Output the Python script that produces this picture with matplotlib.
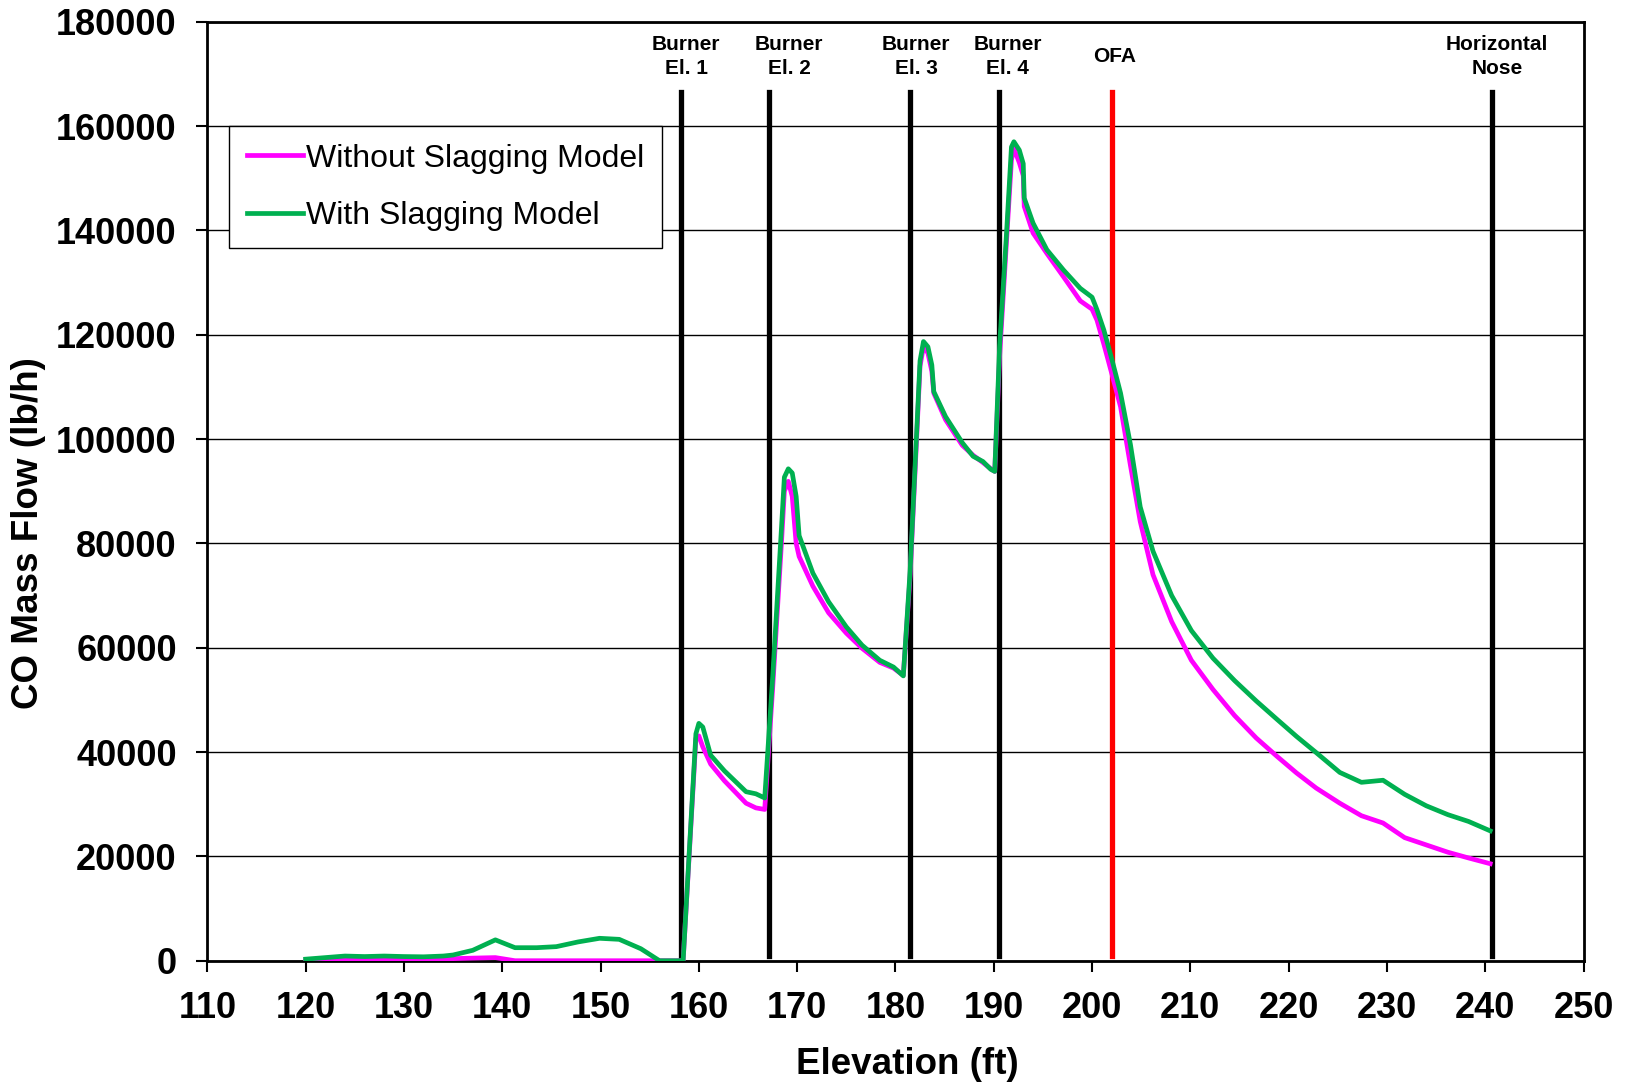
import matplotlib
matplotlib.use("Agg")
import matplotlib.pyplot as plt

# Elevation (ft) of each computational plane
elevation = [120, 122, 124, 126, 128, 130, 132, 134, 135, 137, 139.3, 141.3, 143.5, 145.5,
             147.7, 149.9, 151.9, 154.1, 156.0, 158.4, 159.7, 160.0, 160.4, 161.2, 162.6,
             164.8, 165.8, 166.7, 167.5, 168.4, 168.7, 169.1, 169.5, 169.9, 170.2, 171.6,
             173.2, 175.0, 176.6, 178.4, 179.8, 180.8, 181.5, 182.0, 182.5, 182.85, 183.3,
             183.7, 183.9, 185.1, 186.8, 187.9, 188.9, 189.7, 190.1, 190.6, 191.3, 191.8,
             192.05, 192.6, 193.0, 193.1, 194.0, 195.4, 197.1, 198.8, 200.0, 200.5, 201.2,
             202.0, 202.9, 203.9, 204.9, 206.2, 208.1, 210.1, 212.3, 214.5, 216.7, 218.8,
             220.8, 222.8, 225.2, 227.4, 229.6, 231.8, 234.0, 236.2, 238.3, 240.5]

# CO mass flow (lb/h) without the slagging model
co_without = [0, 100, 200, 200, 200, 200, 200, 300, 400, 500, 600, 0, 0, 0,
              0, 0, 0, 0, 0, 0, 42600, 43100, 41000, 37700, 34500,
              30200, 29300, 29000, 52000, 80000, 90000, 91900, 89000, 80000, 77500, 71800,
              66700, 62800, 59900, 57200, 56100, 54700, 74000, 94000, 114000, 117700, 116500,
              113000, 108800, 103700, 98800, 96900, 95500, 94300, 93800, 116000, 138000, 153500,
              155700, 153000, 150500, 144600, 139500, 135600, 131100, 126500, 124900, 122800, 118200,
              112600, 106200, 95000, 84200, 74000, 65000, 57600, 52000, 47000, 42700, 39200,
              36000, 33100, 30200, 27800, 26400, 23600, 22200, 20800, 19700, 18600]

# CO mass flow (lb/h) with the slagging model
co_with = [300, 600, 900, 800, 900, 800, 750, 900, 1100, 2000, 4000, 2500, 2500, 2700,
           3600, 4300, 4100, 2300, 0, 0, 43500, 45500, 44800, 39400, 36400,
           32400, 32000, 31200, 54000, 82800, 92700, 94300, 93500, 89000, 81500, 74300,
           68800, 64000, 60500, 57600, 56300, 54600, 75000, 95000, 115000, 118700, 117700,
           114200, 109100, 104300, 99300, 96700, 95700, 94200, 93800, 118000, 139500, 156000,
           157000, 155400, 152800, 146200, 141400, 136300, 132400, 128900, 127200, 124800, 120900,
           115400, 108800, 99000, 87000, 78500, 70000, 63300, 58000, 53700, 49800, 46300,
           43000, 39900, 36100, 34200, 34600, 31900, 29700, 28000, 26700, 24900]

# Furnace landmarks
marker_elev = [158.2, 167.1, 181.5, 190.5, 202.0, 240.7]
marker_colors = ["black", "black", "black", "black", "red", "black"]
marker_labels = ["Burner\nEl. 1", "Burner\nEl. 2", "Burner\nEl. 3", "Burner\nEl. 4",
                 "OFA", "Horizontal\nNose"]
marker_label_x = [158.7, 169.2, 182.1, 191.4, 202.3, 241.2]
marker_span = (1000, 166500)
marker_label_y = 173400

x_ticks = list(range(110, 251, 10))
y_ticks = list(range(0, 180001, 20000))

plt.rcParams["font.family"] = ["Liberation Sans", "DejaVu Sans"]

fig = plt.figure(figsize=(16.25, 10.83), dpi=100)
ax = fig.add_axes([0.1276, 0.1129, 0.8469, 0.8670])

ax.set_xlim(110, 250)
ax.set_ylim(0, 180000)
ax.set_xticks(x_ticks)
ax.set_yticks(y_ticks)
ax.grid(axis="y", color="black", linewidth=1.0)
ax.set_axisbelow(True)

for xe, c in zip(marker_elev, marker_colors):
    ax.plot([xe, xe], marker_span, color=c, linewidth=3.8, zorder=2)
for xl, lab in zip(marker_label_x, marker_labels):
    ax.text(xl, marker_label_y, lab, ha="center", va="center", fontsize=15,
            fontweight="bold", linespacing=1.35)

ax.plot(elevation, co_without, color="#FF00FF", linewidth=3.4, zorder=3,
        label="Without Slagging Model")
ax.plot(elevation, co_with, color="#00B050", linewidth=3.4, zorder=4,
        label="With Slagging Model")

for s in ax.spines.values():
    s.set_linewidth(2.0)
    s.set_color("black")

ax.tick_params(axis="both", direction="out", length=8, width=1.5, labelsize=26)
ax.tick_params(axis="x", pad=14)
ax.tick_params(axis="y", pad=14)
for lab in ax.get_xticklabels() + ax.get_yticklabels():
    lab.set_fontweight("bold")

ax.set_xlabel("Elevation (ft)", fontsize=26.5, fontweight="bold", va="center")
ax.xaxis.set_label_coords(0.509, -0.11)
ax.set_ylabel("CO Mass Flow (lb/h)", fontsize=26.5, fontweight="bold", va="center")
ax.yaxis.set_label_coords(-0.1296, 0.455)

leg = ax.legend(loc="upper left", bbox_to_anchor=(0.0158, 0.889), fontsize=23,
                frameon=True, fancybox=False, framealpha=1, edgecolor="black",
                handlelength=1.75, handletextpad=0.1, labelspacing=0.85,
                borderpad=0.55, borderaxespad=0)
leg.get_frame().set_linewidth(1.0)

fig.savefig("out.png", dpi=100)
